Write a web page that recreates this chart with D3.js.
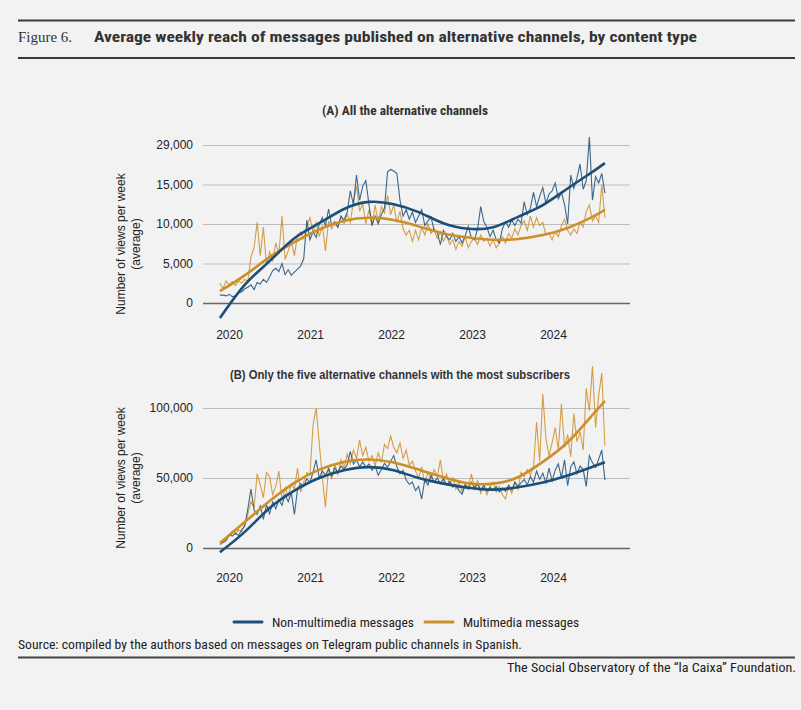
<!DOCTYPE html>
<html>
<head>
<meta charset="utf-8">
<script src="https://cdn.jsdelivr.net/npm/d3@7"></script>
<style>
  html, body { margin: 0; padding: 0; background: #f2f2f2; }
  svg { display: block; }
</style>
</head>
<body>
<div id="chart"></div>
<script>
// Data (weekly averages, in thousands of views; one point every two weeks)
const startDate = new Date(2019, 10, 21);
const stepDays = 14;
const years = [2020, 2021, 2022, 2023, 2024];
const yearLabels = ["2020", "2021", "2022", "2023", "2024"];

const ticksA = [0, 5, 10, 15, 20];
const tickLabelsA = ["0", "5,000", "10,000", "15,000", "29,000"];
const ticksB = [0, 50, 100];
const tickLabelsB = ["0", "50,000", "100,000"];

const seriesNames = ["Non-multimedia messages", "Multimedia messages"];

const nonMultiA = [
  1.0, 1.0, 0.9, 1.1, 0.8, 0.9, 1.3, 1.4, 1.8, 2.0, 2.3, 1.7, 2.6, 2.4, 3.0, 2.6, 3.3, 4.1, 4.4, 4.0,
  5.0, 3.6, 4.2, 3.5, 3.9, 4.3, 4.7, 5.6, 10.5, 8.0, 9.0, 8.3, 10.0, 10.8, 9.8, 11.9, 9.8, 10.3, 9.6, 11.0,
  10.5, 11.5, 14.2, 12.5, 16.2, 13.0, 14.8, 15.5, 12.5, 9.8, 11.0, 10.0, 11.2, 12.0, 16.6, 16.9, 16.7, 16.4, 13.0, 11.0,
  11.8, 10.6, 11.5, 10.2, 11.0, 11.8, 9.8, 10.4, 10.9, 9.2, 9.0, 7.4, 9.2, 8.4, 8.0, 8.8, 7.8, 8.4, 7.6, 8.5,
  9.7, 8.2, 8.0, 9.4, 12.2, 10.3, 9.6, 8.4, 9.2, 8.0, 7.6, 9.4, 10.3, 9.6, 10.5, 9.8, 10.6, 10.1, 12.8, 11.2,
  12.0, 14.0, 12.2, 13.5, 14.6, 12.6, 13.8, 14.2, 15.2, 13.2, 14.0, 12.5, 10.0, 16.2, 14.5, 15.8, 17.6, 14.4, 15.5, 21.0,
  13.0, 16.0, 15.2, 16.4, 13.9
];
const multiA = [
  2.5, 1.8, 2.8, 2.3, 2.7, 2.2, 2.8, 2.5, 3.0, 2.7, 5.8, 7.0, 10.2, 6.0, 9.6, 4.8, 6.5, 5.4, 7.6, 6.2,
  11.0, 5.5, 6.6, 7.8, 6.0, 8.6, 9.0, 8.2, 9.6, 10.8, 9.0, 10.2, 8.4, 9.8, 6.6, 10.4, 9.4, 10.0, 9.6, 11.0,
  10.0, 11.2, 10.2, 12.8, 14.8, 11.6, 12.6, 10.0, 11.8, 9.8, 12.4, 10.2, 12.2, 11.4, 13.6, 11.2, 12.4, 10.2, 11.6, 9.4,
  8.6, 9.2, 7.8, 9.2, 8.0, 9.6, 8.6, 10.0, 8.8, 9.4, 8.2, 9.0, 7.8, 8.6, 7.4, 8.0, 6.8, 7.8, 7.2, 8.4,
  7.0, 7.8, 8.2, 7.4, 8.6, 7.8, 8.2, 7.2, 8.0, 7.0, 7.6, 8.4, 7.6, 8.8, 8.2, 9.4, 8.6, 9.8, 10.4, 9.2,
  11.0, 9.6, 10.8, 9.8, 10.2, 8.6, 8.8, 8.0, 9.0, 8.4, 9.8, 10.6, 9.2, 8.6, 9.4, 8.8, 10.2, 9.6, 11.6, 12.4,
  10.4, 11.0, 10.2, 15.0, 10.8
];
const nonMultiB = [
  2.4, 4.0, 5.2, 9.5, 8.5, 10.5, 9.0, 13.0, 15.5, 28.0, 42.0, 27.0, 24.0, 30.0, 20.5, 31.0, 24.5, 33.0, 28.0, 34.5,
  30.5, 38.0, 33.0, 39.5, 24.0, 42.0, 46.0, 44.0, 49.5, 47.0, 54.0, 63.0, 50.0, 55.0, 52.0, 56.5, 51.5, 57.0, 54.0, 58.5,
  56.0, 59.5, 69.0, 60.0, 63.0, 58.0, 61.5, 57.5, 60.0, 55.5, 58.5, 52.0, 56.0, 60.5, 57.5, 62.0, 66.0, 58.0, 53.0, 55.5,
  48.5, 45.5, 47.0, 41.0, 44.0, 35.0, 49.0, 45.0, 52.0, 47.0, 50.0, 46.0, 49.5, 45.0, 47.5, 43.5, 45.5, 41.0, 38.5, 45.0,
  42.0, 47.0, 43.0, 45.5, 41.5, 44.5, 40.5, 43.5, 41.0, 44.0, 40.0, 43.0, 40.5, 45.0, 41.5, 47.0, 44.0, 46.5, 49.0, 45.0,
  51.0, 47.0, 55.0, 49.0, 53.5, 46.5, 57.0, 48.0, 55.5, 60.0, 50.0, 63.0, 44.5, 58.0, 61.5, 53.0, 58.5, 56.0, 44.0, 66.0,
  61.0, 57.5, 63.5, 70.0, 48.5
];
const multiB = [
  5.0, 4.0, 7.5, 9.5, 12.0, 10.0, 13.0, 11.5, 17.0, 24.0, 33.0, 29.0, 53.0, 45.0, 36.0, 54.0, 51.0, 38.0, 44.0, 55.0,
  34.0, 43.0, 37.0, 46.0, 42.0, 57.0, 40.0, 47.0, 54.0, 52.0, 88.0, 100.0, 75.0, 50.0, 29.0, 58.0, 49.0, 60.0, 52.0, 63.0,
  57.0, 67.0, 60.0, 70.0, 64.0, 77.0, 66.0, 72.0, 62.0, 66.0, 59.0, 68.0, 61.0, 74.0, 71.0, 80.0, 72.0, 68.0, 75.0, 64.0,
  70.0, 59.0, 62.0, 55.0, 50.0, 58.0, 46.0, 54.0, 49.0, 56.0, 51.0, 63.0, 48.0, 53.0, 45.0, 50.0, 42.0, 47.0, 40.0, 46.0,
  43.0, 53.0, 42.0, 48.0, 39.0, 45.0, 38.0, 44.0, 47.0, 40.0, 44.0, 38.0, 35.0, 44.0, 39.0, 47.0, 42.0, 54.0, 51.0, 56.0,
  52.0, 58.0, 90.0, 62.0, 110.0, 78.0, 66.0, 75.0, 86.0, 70.0, 103.0, 72.0, 81.0, 65.0, 96.0, 76.0, 83.0, 70.0, 114.0, 98.0,
  130.0, 86.0, 109.0, 125.0, 73.0
];

// Smoothed trends, sampled at these point indices
const trendIdx = [0, 8, 16, 24, 32, 40, 48, 56, 64, 72, 80, 88, 96, 104, 112, 120, 124];
const nonMultiTrendA = [-1.9, 2.3, 5.3, 8.2, 10.1, 11.9, 12.8, 12.5, 11.5, 10.1, 9.4, 9.6, 10.9, 12.4, 14.5, 16.6, 17.7];
const multiTrendA = [1.5, 3.5, 5.8, 7.7, 9.3, 10.4, 10.8, 10.5, 9.7, 8.8, 8.3, 8.0, 8.1, 8.6, 9.5, 10.9, 11.8];
const nonMultiTrendB = [-3.0, 11.5, 28.5, 41.0, 50.0, 55.5, 57.8, 55.5, 50.0, 46.0, 43.0, 41.7, 43.4, 46.8, 51.8, 58.0, 61.2];
const multiTrendB = [3.5, 18.5, 33.5, 46.5, 56.0, 61.5, 63.2, 61.0, 56.0, 50.5, 46.2, 46.0, 50.5, 61.5, 75.5, 95.0, 105.0];

// Layout
const W = 801, H = 710;
const left = 203, right = 630;
const blue = "#1b4f7a", orange = "#cc8f2a";
const condensed = "'Liberation Sans Narrow', 'Roboto Condensed', 'Liberation Sans', sans-serif";
const sans = "'Liberation Sans', Arial, sans-serif";

const dateAt = i => d3.timeDay.offset(startDate, stepDays * i);

const x = d3.scaleTime()
    .domain([new Date(2020, 0, 1), new Date(2024, 0, 1)])
    .range([229, 553]);

const svg = d3.select("#chart").append("svg")
    .attr("width", W)
    .attr("height", H);

svg.append("rect").attr("width", W).attr("height", H).attr("fill", "#f2f2f2");

// Header
svg.append("line").attr("x1", 18).attr("x2", 795).attr("y1", 20.5).attr("y2", 20.5)
    .attr("stroke", "#3a3a3a").attr("stroke-width", 2);
svg.append("text").attr("x", 18).attr("y", 42)
    .attr("font-family", "'Liberation Serif', 'DejaVu Serif', serif").attr("font-size", 15)
    .attr("fill", "#333").attr("textLength", 54).attr("lengthAdjust", "spacingAndGlyphs")
    .text("Figure 6.");
svg.append("text").attr("x", 94).attr("y", 42)
    .attr("font-family", condensed).attr("font-size", 15.5).attr("font-weight", "bold")
    .attr("fill", "#333").attr("textLength", 603).attr("lengthAdjust", "spacingAndGlyphs")
    .text("Average weekly reach of messages published on alternative channels, by content type");
svg.append("line").attr("x1", 18).attr("x2", 795).attr("y1", 58).attr("y2", 58)
    .attr("stroke", "#3a3a3a").attr("stroke-width", 2);

function panel(opts) {
  const y = d3.scaleLinear().domain(opts.domain).range([opts.bottom, opts.top]);
  const g = svg.append("g");

  g.append("text").attr("x", opts.titleX).attr("y", opts.titleY)
      .attr("text-anchor", "middle").attr("font-family", opts.titleFont)
      .attr("font-size", 12).attr("font-weight", "bold").attr("fill", "#333")
      .attr("textLength", opts.titleLen).attr("lengthAdjust", "spacingAndGlyphs")
      .text(opts.title);

  const yAxis = d3.axisLeft(y)
      .tickValues(opts.ticks)
      .tickFormat((d, i) => opts.tickLabels[i])
      .tickSizeInner(-(right - left))
      .tickSizeOuter(0)
      .tickPadding(10);

  const ya = g.append("g")
      .attr("transform", "translate(" + left + ",0)")
      .call(yAxis);
  ya.select(".domain").remove();
  ya.selectAll(".tick line")
      .attr("stroke", d => d === 0 ? "#666" : "#bdbdbd")
      .attr("stroke-width", d => d === 0 ? 1.6 : 1);
  ya.selectAll(".tick text")
      .attr("font-family", sans).attr("font-size", 12).attr("fill", "#222");

  const xAxis = d3.axisBottom(x)
      .tickValues(years.map(yr => new Date(yr, 0, 1)))
      .tickFormat((d, i) => yearLabels[i])
      .tickSize(0)
      .tickPadding(0);
  const xa = g.append("g")
      .attr("transform", "translate(0," + opts.xLabelY + ")")
      .call(xAxis);
  xa.select(".domain").remove();
  xa.selectAll(".tick text")
      .attr("font-family", sans).attr("font-size", 12).attr("fill", "#222");

  const yt = g.append("text")
      .attr("transform", "translate(121," + opts.yTitleY + ") rotate(-90)")
      .attr("text-anchor", "middle").attr("font-family", sans)
      .attr("font-size", 12).attr("fill", "#222");
  yt.append("tspan").attr("x", 0).attr("dy", 4).text("Number of views per week");
  yt.append("tspan").attr("x", 0).attr("dy", 15).text("(average)");

  const raw = d3.line()
      .x((d, i) => x(dateAt(i)))
      .y(d => y(d));
  const trend = d3.line()
      .x((d, i) => x(dateAt(trendIdx[i])))
      .y(d => y(d))
      .curve(d3.curveNatural);

  g.append("path").datum(opts.multi)
      .attr("fill", "none").attr("stroke", orange).attr("stroke-width", 1.1)
      .attr("stroke-opacity", 0.85).attr("d", raw);
  g.append("path").datum(opts.nonMulti)
      .attr("fill", "none").attr("stroke", blue).attr("stroke-width", 1.1)
      .attr("stroke-opacity", 0.85).attr("d", raw);
  g.append("path").datum(opts.multiTrend)
      .attr("fill", "none").attr("stroke", orange).attr("stroke-width", 2.6)
      .attr("d", trend);
  g.append("path").datum(opts.nonMultiTrend)
      .attr("fill", "none").attr("stroke", blue).attr("stroke-width", 2.6)
      .attr("d", trend);
}

panel({
  title: "(A) All the alternative channels", titleX: 405, titleY: 115, titleLen: 166,
  titleFont: condensed,
  domain: [0, 20], top: 145, bottom: 303, ticks: ticksA, tickLabels: tickLabelsA,
  xLabelY: 330, yTitleY: 244,
  nonMulti: nonMultiA, multi: multiA, nonMultiTrend: nonMultiTrendA, multiTrend: multiTrendA
});

panel({
  title: "(B) Only the five alternative channels with the most subscribers", titleX: 400, titleY: 379, titleLen: 340,
  titleFont: sans,
  domain: [0, 100], top: 408, bottom: 548, ticks: ticksB, tickLabels: tickLabelsB,
  xLabelY: 573, yTitleY: 478,
  nonMulti: nonMultiB, multi: multiB, nonMultiTrend: nonMultiTrendB, multiTrend: multiTrendB
});

// Legend
const legend = svg.append("g").attr("transform", "translate(0,622)");
const legendItems = [
  {name: seriesNames[0], color: blue, x: 234, len: 142},
  {name: seriesNames[1], color: orange, x: 425, len: 116}
];
legendItems.forEach(it => {
  legend.append("line").attr("x1", it.x).attr("x2", it.x + 28).attr("y1", 0).attr("y2", 0)
      .attr("stroke", it.color).attr("stroke-width", 3).attr("stroke-linecap", "round");
  legend.append("text").attr("x", it.x + 38).attr("y", 4.5)
      .attr("font-family", condensed).attr("font-size", 13).attr("fill", "#222")
      .attr("textLength", it.len).attr("lengthAdjust", "spacingAndGlyphs")
      .text(it.name);
});

// Footer
svg.append("text").attr("x", 18).attr("y", 649)
    .attr("font-family", condensed).attr("font-size", 12.5).attr("fill", "#222")
    .attr("textLength", 504).attr("lengthAdjust", "spacingAndGlyphs")
    .text("Source: compiled by the authors based on messages on Telegram public channels in Spanish.");
svg.append("line").attr("x1", 18).attr("x2", 795).attr("y1", 657.5).attr("y2", 657.5)
    .attr("stroke", "#444").attr("stroke-width", 2);
svg.append("text").attr("x", 796).attr("y", 672).attr("text-anchor", "end")
    .attr("font-family", condensed).attr("font-size", 12.5).attr("fill", "#222")
    .attr("textLength", 289).attr("lengthAdjust", "spacingAndGlyphs")
    .text("The Social Observatory of the \u201cla Caixa\u201d Foundation.");
</script>
</body>
</html>
